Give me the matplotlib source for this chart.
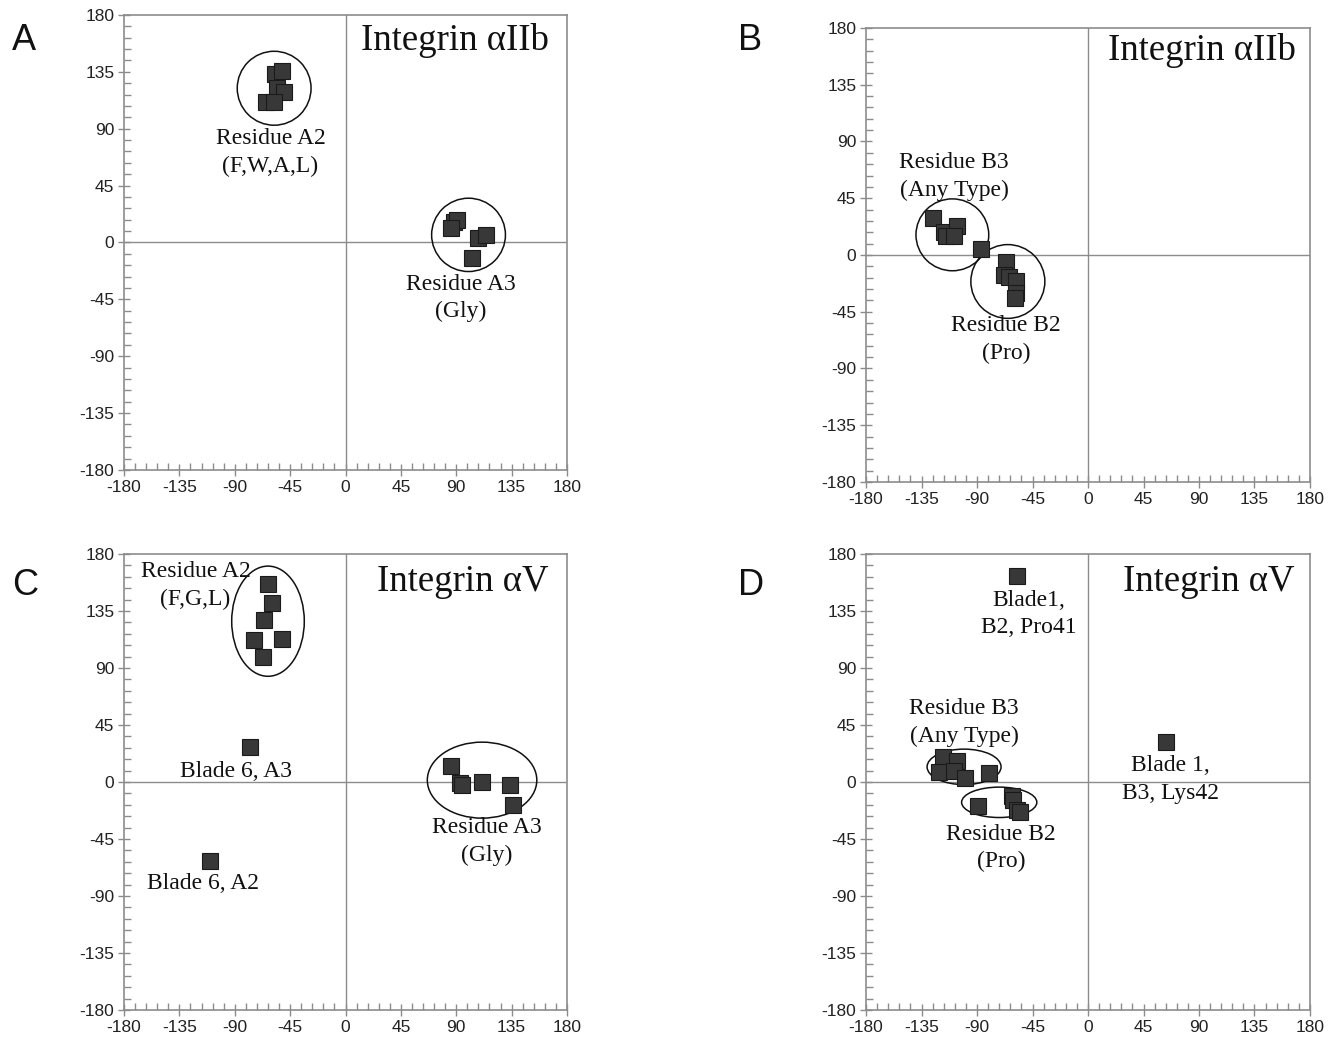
import matplotlib
matplotlib.use("Agg")
import matplotlib.pyplot as plt
from matplotlib.patches import Ellipse
import numpy as np

plt.rcParams["axes.unicode_minus"] = False

# ---------------- data (phi, psi in degrees) ----------------
# Panel A: Integrin alphaIIb, blade A residues
a_A2_phi = [-57, -52, -56, -50, -65, -58.5]
a_A2_psi = [133, 136, 122, 119, 111, 111]
a_A3_phi = [88, 91, 86, 108, 114, 103]
a_A3_psi = [16, 18, 11.5, 3.5, 6, -12]

# Panel B: Integrin alphaIIb, blade B residues
b_B3_phi = [-126, -117, -106, -115, -109, -87]
b_B3_psi = [29, 18, 23, 15, 15, 5]
b_B2_phi = [-66.5, -68, -64, -58, -58, -59]
b_B2_psi = [-5.5, -16, -17.5, -20.6, -30, -34]

# Panel C: Integrin alphaV, blade A residues
c_A2_phi = [-63, -60, -66, -74, -52, -66.7]
c_A2_psi = [156, 141, 128, 112, 113, 99]
c_A3_phi = [86, 92.7, 95, 111, 134, 136]
c_A3_psi = [13, -1, -2, 0, -2.4, -18]
c_bl6_phi = [-78, -110]
c_bl6_psi = [28, -62]

# Panel D: Integrin alphaV, blade B residues
d_B3_phi = [-117.6, -106, -121, -109, -100, -80]
d_B3_psi = [19.7, 17, 8, 8.7, 3, 7]
d_B2_phi = [-89, -61.6, -61, -57.6, -55]
d_B2_psi = [-19, -11, -14, -22, -23.7]
d_bl1_phi = [-57.6, 63]
d_bl1_psi = [162.6, 32]

ticks = [-180, -135, -90, -45, 0, 45, 90, 135, 180]

# ---------------- style ----------------
GRAY = "#8c8c8c"
SQ = "#383838"
SERIF = ["Liberation Serif", "DejaVu Serif"]
SANS = ["Liberation Sans", "DejaVu Sans"]

fig = plt.figure(figsize=(13.34, 10.37), dpi=100)

positions = {
    "A": [0.093, 0.5468, 0.332, 0.4388],
    "B": [0.6492, 0.5352, 0.3328, 0.4378],
    "C": [0.093, 0.026, 0.332, 0.4397],
    "D": [0.6492, 0.026, 0.3328, 0.4397],
}
letter_pos = {"A": (0.009, 0.978), "B": (0.553, 0.978),
              "C": (0.009, 0.452), "D": (0.553, 0.452)}


def setup(ax, letter):
    ax.set_xlim(-180, 180)
    ax.set_ylim(-180, 180)
    ax.axhline(0, color=GRAY, lw=1.0, zorder=1)
    ax.axvline(0, color=GRAY, lw=1.0, zorder=1)
    for s in ax.spines.values():
        s.set_color(GRAY)
        s.set_linewidth(1.2)
    ax.set_xticks(ticks)
    ax.set_yticks(ticks)
    ax.set_xticks(np.arange(-180, 181, 9), minor=True)
    ax.set_yticks(np.arange(-180, 181, 9), minor=True)
    ax.tick_params(which="major", direction="inout", length=8, width=1, color=GRAY,
                   labelsize=12.5, labelcolor="#222222", pad=3)
    ax.tick_params(which="minor", direction="in", length=5, width=1, color=GRAY)
    for lab in ax.get_xticklabels() + ax.get_yticklabels():
        lab.set_family(SANS)
    lx, ly = letter_pos[letter]
    fig.text(lx, ly, letter, fontsize=26, family=SANS,
             ha="left", va="top", color="#111111")


def squares(ax, x, y):
    ax.plot(x, y, linestyle="none", marker="s", markersize=11.5,
            markerfacecolor=SQ, markeredgecolor="#1a1a1a", markeredgewidth=0.8, zorder=3)


def ell(ax, cx, cy, w, h):
    ax.add_patch(Ellipse((cx, cy), w, h, fill=False, edgecolor="#111111", lw=1.1, zorder=2))


def label(ax, x, y, s, size=17):
    ax.text(x, y, s, ha="center", va="center", fontsize=size, family=SERIF,
            color="#111111", linespacing=1.4, zorder=4)


def title(ax, x, y, s):
    ax.text(x, y, s, ha="center", va="center", fontsize=26.5, family=SERIF, color="#111111")


# ---- Panel A ----
axA = fig.add_axes(positions["A"])
setup(axA, "A")
squares(axA, a_A2_phi, a_A2_psi)
squares(axA, a_A3_phi, a_A3_psi)
ell(axA, -58, 122, 60, 58.5)
ell(axA, 100, 6, 60, 58)
title(axA, 89, 160, "Integrin αIIb")
label(axA, -61, 71, "Residue A2\n(F,W,A,L)")
label(axA, 94, -44, "Residue A3\n(Gly)")

# ---- Panel B ----
axB = fig.add_axes(positions["B"])
setup(axB, "B")
squares(axB, b_B3_phi, b_B3_psi)
squares(axB, b_B2_phi, b_B2_psi)
ell(axB, -110, 16, 59, 57)
ell(axB, -65, -21, 60, 58.5)
title(axB, 92.5, 162.5, "Integrin αIIb")
label(axB, -108.7, 62, "Residue B3\n(Any Type)")
label(axB, -66.5, -67, "Residue B2\n(Pro)")

# ---- Panel C ----
axC = fig.add_axes(positions["C"])
setup(axC, "C")
squares(axC, c_A2_phi, c_A2_psi)
squares(axC, c_A3_phi, c_A3_psi)
squares(axC, c_bl6_phi, c_bl6_psi)
ell(axC, -63, 127, 59, 87)
ell(axC, 111, 1.5, 89, 60)
title(axC, 95, 158, "Integrin αV")
label(axC, -122, 155, "Residue A2\n(F,G,L)")
label(axC, -89, 8, "Blade 6, A3")
label(axC, -116, -80, "Blade 6, A2")
label(axC, 115, -47, "Residue A3\n(Gly)")

# ---- Panel D ----
axD = fig.add_axes(positions["D"])
setup(axD, "D")
squares(axD, d_B3_phi, d_B3_psi)
squares(axD, d_B2_phi, d_B2_psi)
squares(axD, d_bl1_phi, d_bl1_psi)
ell(axD, -100.5, 12, 60, 28)
ell(axD, -72, -16, 61, 24)
title(axD, 98, 158, "Integrin αV")
label(axD, -48, 132.5, "Blade1,\nB2, Pro41")
label(axD, -100.6, 47, "Residue B3\n(Any Type)")
label(axD, -70.6, -52, "Residue B2\n(Pro)")
label(axD, 67, 2, "Blade 1,\nB3, Lys42")

fig.savefig("out.png", dpi=100)
